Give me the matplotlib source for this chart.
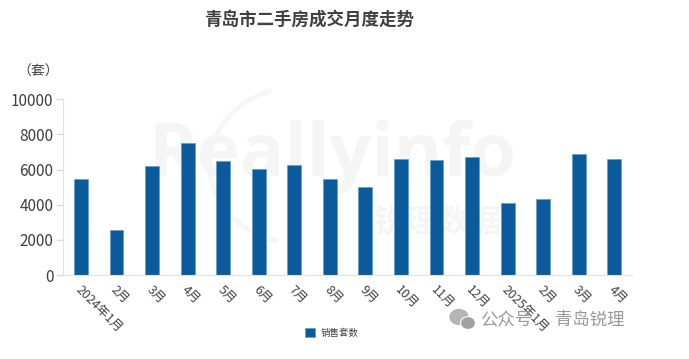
import matplotlib
matplotlib.use('Agg')
import matplotlib.pyplot as plt
from matplotlib.patches import Arc, Ellipse

plt.rcParams['font.family'] = ['Noto Sans CJK SC', 'DejaVu Sans']

months = ['2024年1月', '2月', '3月', '4月', '5月', '6月', '7月', '8月', '9月',
          '10月', '11月', '12月', '2025年1月', '2月', '3月', '4月']
sales = [5445, 2540, 6180, 7510, 6490, 6010, 6260, 5445, 5010,
         6620, 6525, 6695, 4080, 4325, 6905, 6620]
yticks = [0, 2000, 4000, 6000, 8000, 10000]

W, H = 689, 359
fig = plt.figure(figsize=(W / 100, H / 100), dpi=100)

# overlay in pixel coordinates, for the watermarks behind the chart
bg = fig.add_axes([0, 0, 1, 1], zorder=0)
bg.set_xlim(0, W)
bg.set_ylim(H, 0)
bg.axis('off')
bg.add_patch(Arc((298, 165), 176, 156, theta1=105, theta2=250, color='#f6f6f6', lw=3.5))
bg.text(332, 157, 'Reallyinfo', fontsize=53, fontweight='bold', color='#f5f5f5',
        family='Open Sans', ha='center', va='center')
bg.text(437, 222, '锐理数据', fontsize=23, fontweight='bold', color='#f5f5f5',
        ha='center', va='center')

ax = fig.add_axes([63.2 / W, 1 - 275 / H, 568.8 / W, 175.7 / H], zorder=1)
ax.patch.set_alpha(0)
ax.bar(range(len(sales)), sales, width=0.39, color='#0a5a9c', edgecolor='#5d9fd0',
       linewidth=0.5, label='销售套数')
ax.set_xlim(-0.5, len(sales) - 0.5)
ax.set_ylim(0, 10000)
ax.set_yticks(yticks)
ax.tick_params(axis='y', labelsize=11, labelcolor='#404040', color='#d9d9d9', length=5,
               width=1, pad=2, direction='out')
ax.set_xticks(range(len(sales)))
ax.set_xticklabels(months, rotation=-45, ha='left', rotation_mode='anchor', fontsize=9,
                   color='#404040')
ax.tick_params(axis='x', length=0, pad=6)
# nudge the rotated labels to the right, they sit a bit further over in the original
for lab in ax.get_xticklabels():
    lab.set_transform(lab.get_transform() + matplotlib.transforms.ScaledTranslation(1 / 100, 0, fig.dpi_scale_trans))
for s in ['top', 'right']:
    ax.spines[s].set_visible(False)
ax.spines['left'].set_color('#e2e2e2')
ax.spines['bottom'].set_color('#e2e2e2')

fig.text(309 / W, 1 - 20 / H, '青岛市二手房成交月度走势', fontsize=12.6, fontweight='bold',
         color='#404040', ha='center', va='center')
fig.text(38 / W, 1 - 72 / H, '（套）', fontsize=10, color='#404040', ha='center', va='center')

ax.legend(loc='center', bbox_to_anchor=(332 / W, 1 - 333 / H), bbox_transform=fig.transFigure,
          frameon=False, fontsize=6.8, labelcolor='#404040', handlelength=1, handleheight=1,
          handletextpad=0.6)

# WeChat account mark on top of everything
top = fig.add_axes([0, 0, 1, 1], zorder=2)
top.set_xlim(0, W)
top.set_ylim(H, 0)
top.axis('off')
top.add_patch(Ellipse((459, 317), 18, 15, color='#b5b5b5'))
top.add_patch(Ellipse((468, 323), 15, 13, color='#a2a2a2', ec='white', lw=0.8))
top.text(480, 320, '公众号', fontsize=12.5, color='#999999', ha='left', va='center')
top.text(555, 320, '青岛锐理', fontsize=12.5, color='#999999', ha='left', va='center')

fig.savefig('out.png', dpi=100)
